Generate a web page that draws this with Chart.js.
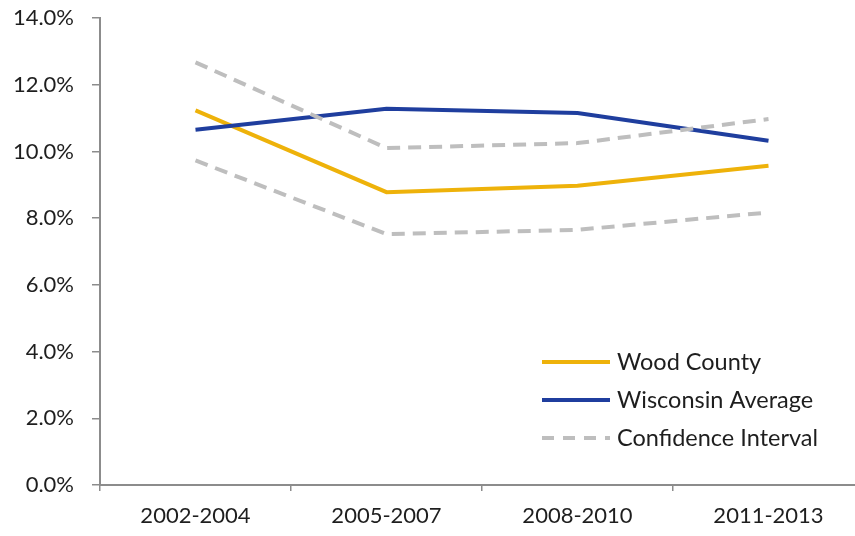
<!DOCTYPE html>
<html>
<head>
<meta charset="utf-8">
<script src="https://cdn.jsdelivr.net/npm/chart.js@4"></script>
<style>
  html, body { margin: 0; padding: 0; background: #fff; overflow: hidden; }
  #wrap { width: 870px; height: 536px; }
</style>
</head>
<body>
<div id="wrap"><canvas id="myChart" width="870" height="536"></canvas></div>
<script>
const periods = ["2002-2004", "2005-2007", "2008-2010", "2011-2013"];
const woodCounty = [11.23, 8.78, 8.97, 9.57];
const wisconsinAvg = [10.65, 11.28, 11.15, 10.32];
const ciUpper = [12.67, 10.10, 10.25, 10.97];
const ciLower = [9.73, 7.52, 7.65, 8.17];
const yTicks = [0, 2, 4, 6, 8, 10, 12, 14];

const YELLOW = "#EEB20A";
const BLUE = "#1F3E9E";
const GREY = "#BEBEBE";
const AXIS = "#8C8C8C";
const TEXT = "#1E1E1E";
const FONT = "Lato";

// legend drawn inside the plot, lower right, one entry per label
const insideLegend = {
  id: "insideLegend",
  afterDraw(chart) {
    const ctx = chart.ctx;
    const seen = [];
    chart.data.datasets.forEach(ds => {
      if (!seen.find(s => s.label === ds.label)) seen.push(ds);
    });
    const x0 = 542, x1 = 610, tx = 617;
    let y = 362;
    ctx.save();
    ctx.font = "23.5px " + FONT;
    ctx.fillStyle = TEXT;
    ctx.textBaseline = "middle";
    seen.forEach(ds => {
      ctx.beginPath();
      ctx.strokeStyle = ds.borderColor;
      ctx.lineWidth = 4;
      ctx.setLineDash(ds.borderDash.length ? [12, 9] : []);
      ctx.moveTo(x0, y);
      ctx.lineTo(x1, y);
      ctx.stroke();
      ctx.setLineDash([]);
      ctx.fillText(ds.label, tx, y);
      y += 38;
    });
    ctx.restore();
  }
};

const lineStyle = (label, data, color, dash, order) => ({
  label: label,
  data: data,
  borderColor: color,
  backgroundColor: color,
  borderWidth: 4,
  borderDash: dash,
  pointRadius: 0,
  tension: 0,
  fill: false,
  order: order
});

const ctx = document.getElementById("myChart").getContext("2d");
const myChart = new Chart(ctx, {
  type: "line",
  data: {
    labels: periods,
    datasets: [
      lineStyle("Wood County", woodCounty, YELLOW, [], 3),
      lineStyle("Wisconsin Average", wisconsinAvg, BLUE, [], 2),
      lineStyle("Confidence Interval", ciUpper, GREY, [13, 8], 1),
      lineStyle("Confidence Interval", ciLower, GREY, [13, 8], 1)
    ]
  },
  options: {
    responsive: false,
    animation: false,
    layout: { padding: { top: 18, right: 6, left: 0, bottom: 0 } },
    plugins: {
      legend: { display: false },
      tooltip: { enabled: false }
    },
    scales: {
      x: {
        offset: true,
        grid: { offset: true, drawOnChartArea: false, drawTicks: true, tickLength: 6, color: AXIS, lineWidth: 1.5 },
        border: { color: AXIS, width: 2 },
        ticks: { color: TEXT, font: { family: FONT, size: 22 }, padding: 12, maxRotation: 0 },
        afterFit(scale) { scale.height = 51; }
      },
      y: {
        min: 0,
        max: 14,
        afterBuildTicks(scale) { scale.ticks = yTicks.map(v => ({ value: v })); },
        grid: { drawOnChartArea: false, drawTicks: true, tickLength: 8, color: AXIS, lineWidth: 1.5 },
        border: { color: AXIS, width: 2 },
        ticks: {
          color: TEXT,
          font: { family: FONT, size: 22 },
          padding: 18,
          callback: v => v.toFixed(1) + "%"
        },
        afterFit(scale) {
          scale.width = 100;
          scale.paddingTop = 0;
          scale.paddingBottom = 0;
        }
      }
    }
  },
  plugins: [insideLegend]
});
</script>
</body>
</html>
